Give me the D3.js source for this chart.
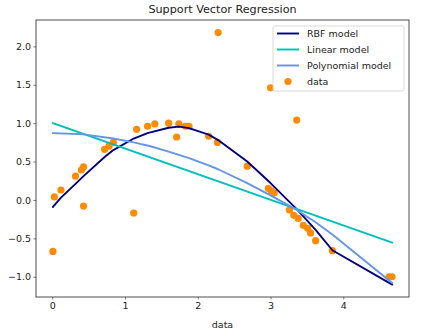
<!DOCTYPE html>
<html>
<head>
<meta charset="utf-8">
<script src="https://cdn.jsdelivr.net/npm/d3@7"></script>
<style>
  body { margin: 0; background: #fff; }
  svg { display: block; font-family: "DejaVu Sans", sans-serif; }
</style>
</head>
<body>
<div id="chart"></div>
<script>
// Samples (sorted by x)
const dataX = [0.01, 0.03, 0.12, 0.32, 0.40, 0.43, 0.43, 0.72, 0.78, 0.84,
  1.12, 1.16, 1.31, 1.41, 1.60, 1.71, 1.74, 1.83, 1.88, 2.15,
  2.27, 2.28, 2.68, 2.97, 3.00, 3.01, 3.05, 3.26, 3.32, 3.36,
  3.38, 3.45, 3.51, 3.55, 3.62, 3.85, 4.63, 4.67]
const dataY = [-0.67, 0.04, 0.13, 0.31, 0.39, -0.08, 0.43, 0.66, 0.70, 0.75,
  -0.17, 0.92, 0.96, 0.99, 1.00, 0.82, 0.99, 0.96, 0.96, 0.83,
  0.75, 2.18, 0.44, 0.15, 1.46, 0.12, 0.09, -0.13, -0.20, 1.04,
  -0.24, -0.33, -0.37, -0.43, -0.53, -0.66, -1.00, -1.00]

// Model predictions
const rbfX = [0.01, 0.12, 0.32, 0.43, 0.72, 0.84, 1.12, 1.31, 1.60, 1.74,
  1.88, 2.15, 2.28, 2.68, 3.00, 3.36, 3.62, 3.85, 4.63, 4.67]
const rbfY = [-0.09, 0.03, 0.21, 0.31, 0.56, 0.65, 0.80, 0.87, 0.94, 0.955,
  0.935, 0.85, 0.78, 0.50, 0.22, -0.12, -0.39, -0.655, -1.08, -1.10]

const linX = [0.01, 4.67]
const linY = [1.00, -0.555]

const polyX = [0.01, 0.43, 0.84, 1.12, 1.35, 1.60, 1.88, 2.15, 2.28, 2.68,
  3.00, 3.36, 3.62, 3.85, 4.63, 4.67]
const polyY = [0.87, 0.855, 0.80, 0.75, 0.70, 0.63, 0.545, 0.45, 0.40, 0.22,
  0.06, -0.13, -0.29, -0.45, -1.05, -1.08]

const xTicks = [0, 1, 2, 3, 4]
const yTicks = [-1.0, -0.5, 0.0, 0.5, 1.0, 1.5, 2.0]

const models = [
  {name: "RBF model", xs: rbfX, ys: rbfY, color: "#000080"},
  {name: "Linear model", xs: linX, ys: linY, color: "#00bfbf"},
  {name: "Polynomial model", xs: polyX, ys: polyY, color: "#6495ed"}
]

const width = 426, height = 335
const margin = {top: 20, right: 17, bottom: 38, left: 36}
const innerW = width - margin.left - margin.right
const innerH = height - margin.top - margin.bottom

const svg = d3.select("#chart").append("svg")
  .attr("width", width)
  .attr("height", height)

const g = svg.append("g")
  .attr("transform", "translate(" + margin.left + "," + margin.top + ")")

const x = d3.scaleLinear().domain([-0.223, 4.903]).range([0, innerW])
const y = d3.scaleLinear().domain([-1.264, 2.344]).range([innerH, 0])

// Axes
const xAxis = g.append("g")
  .attr("transform", "translate(0," + innerH + ")")
  .call(d3.axisBottom(x).tickValues(xTicks).tickFormat(d3.format("d")).tickSize(2.5).tickPadding(2.5))
const yAxis = g.append("g")
  .call(d3.axisLeft(y).tickValues(yTicks).tickFormat(d3.format(".1f")).tickSize(2.5).tickPadding(2.5))

;[xAxis, yAxis].forEach(a => {
  a.select(".domain").remove()
  a.selectAll("line").attr("stroke", "#222").attr("stroke-width", 0.6)
  a.selectAll("text").attr("font-size", 9.5).attr("fill", "#222")
    .attr("font-family", "DejaVu Sans")
    .text(function() { return d3.select(this).text().replace("-", "\u2212") })
})

// Scatter points
g.append("g")
  .selectAll(".dot")
  .data(dataX)
  .enter()
  .append("circle")
    .attr("class", "dot")
    .attr("cx", d => x(d))
    .attr("cy", (d, i) => y(dataY[i]))
    .attr("r", 3.6)
    .style("fill", "#ff8c00")

// Model lines
const line = d3.line()
  .x(d => x(d[0]))
  .y(d => y(d[1]))

models.forEach(m => {
  g.append("path")
    .datum(m.xs.map((v, i) => [v, m.ys[i]]))
    .attr("d", line)
    .attr("fill", "none")
    .attr("stroke", m.color)
    .attr("stroke-width", 1.9)
    .attr("stroke-linejoin", "round")
    .attr("stroke-linecap", "square")
})

// Frame
g.append("rect")
  .attr("width", innerW)
  .attr("height", innerH)
  .attr("fill", "none")
  .attr("stroke", "#222")
  .attr("stroke-width", 0.8)

// Title and label
svg.append("text")
  .attr("x", margin.left + innerW / 2)
  .attr("y", 13)
  .attr("text-anchor", "middle")
  .attr("font-size", 11.2)
  .attr("fill", "#222")
  .text("Support Vector Regression")

svg.append("text")
  .attr("x", margin.left + innerW / 2)
  .attr("y", 328)
  .attr("text-anchor", "middle")
  .attr("font-size", 9.5)
  .attr("fill", "#222")
  .text("data")

// Legend
const legend = g.append("g")
  .attr("transform", "translate(" + (innerW - 136) + ",6)")

legend.append("rect")
  .attr("width", 131)
  .attr("height", 65)
  .attr("rx", 2)
  .attr("fill", "#fff")
  .attr("fill-opacity", 0.8)
  .attr("stroke", "#d0d0d0")
  .attr("stroke-width", 0.8)

models.forEach((m, i) => {
  const yy = 7.5 + i * 16
  legend.append("line")
    .attr("x1", 4).attr("x2", 26)
    .attr("y1", yy).attr("y2", yy)
    .attr("stroke", m.color)
    .attr("stroke-width", 1.9)
  legend.append("text")
    .attr("x", 34).attr("y", yy + 3.4)
    .attr("font-size", 9.5)
    .attr("fill", "#222")
    .text(m.name)
})

legend.append("circle")
  .attr("cx", 15).attr("cy", 7.5 + 3 * 16)
  .attr("r", 3.6)
  .style("fill", "#ff8c00")
legend.append("text")
  .attr("x", 34).attr("y", 7.5 + 3 * 16 + 3.4)
  .attr("font-size", 9.5)
  .attr("fill", "#222")
  .text("data")
</script>
</body>
</html>
